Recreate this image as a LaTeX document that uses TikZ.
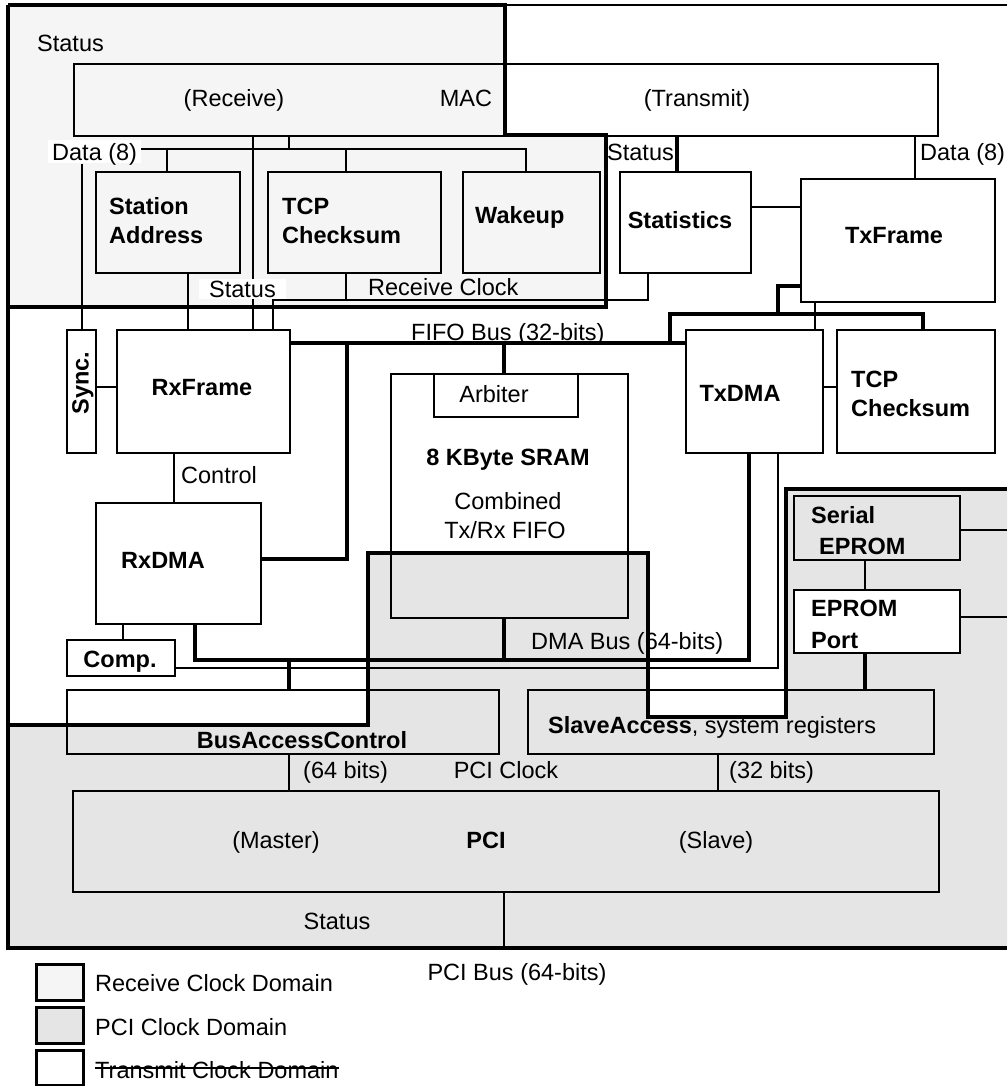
\documentclass[tikz,border=0pt]{standalone}
\usepackage{fontspec}
\setmainfont{Liberation Sans}
\definecolor{rxdom}{RGB}{245,245,245}
\definecolor{pcidom}{RGB}{229,229,229}
\tikzset{
  blk/.style={draw, line width=2pt, inner sep=0pt, anchor=north west},
  txt/.style={inner sep=0pt, text height=17pt, text depth=0pt, font=\fontsize{23.5}{28}\selectfont},
  btxt/.style={txt, font=\fontsize{23.5}{28}\selectfont\bfseries},
  wire/.style={line width=2pt},
  bus/.style={line width=3.2pt},
  domline/.style={line width=3.2pt, line join=miter}
}
\begin{document}
\begin{tikzpicture}[x=1pt,y=-1pt]
\useasboundingbox (0,0) rectangle (1007,1086);
\clip (0,0) rectangle (1007,1086);
% clock domains
\fill[rxdom] (8,5) -- (505,5) -- (505,135) -- (606,135) -- (606,307) -- (8,307) -- cycle;
\fill[pcidom] (8,725) -- (368,725) -- (368,553) -- (648,553) -- (648,717) -- (786,717) -- (786,489) -- (1012,489) -- (1012,948) -- (8,948) -- cycle;

% blocks
\node[blk, minimum width=864, minimum height=72] (mac) at (73,63) {};
\node[blk, minimum width=144, minimum height=101] (sta) at (95,171) {};
\node[blk, minimum width=173, minimum height=101] (tcpr) at (267,171) {};
\node[blk, minimum width=137, minimum height=101] (wak) at (462,171) {};
\node[blk, minimum width=131, minimum height=101] (stat) at (619,171) {};
\node[blk, minimum width=194, minimum height=123] (txf) at (800,178) {};
\node[blk, minimum width=29, minimum height=123] (sync) at (66,329) {};
\node[blk, minimum width=173, minimum height=123] (rxf) at (116,329) {};
\node[blk, minimum width=237, minimum height=244] (sram) at (390,373) {};
\node[blk, minimum width=144, minimum height=43] (arb) at (433,373) {};
\node[blk, minimum width=137, minimum height=123] (txdma) at (685,329) {};
\node[blk, minimum width=158, minimum height=123] (tcpt) at (836,329) {};
\node[blk, minimum width=165, minimum height=121] (rxdma) at (95,502) {};
\node[blk, minimum width=108, minimum height=36] (comp) at (66,639) {};
\node[blk, minimum width=166, minimum height=64] (ser) at (793,495) {};
\node[blk, fill=white, minimum width=166, minimum height=63] (port) at (793,589) {};
\node[blk, minimum width=432, minimum height=64] (bac) at (66,689) {};
\node[blk, minimum width=406, minimum height=64] (sla) at (527,689) {};
\node[blk, minimum width=866, minimum height=101] (pci) at (72,790) {};

% junction coordinates
\coordinate (rbus) at (289,149);
\coordinate (stj) at (273,300);
\coordinate (stk) at (648,300);
\coordinate (fifoR) at (670,343);
\coordinate (txbL) at (670,314);
\coordinate (txbR) at (923,314);
\coordinate (txbT) at (778,286);
\coordinate (txbM) at (778,314);
\coordinate (fifoA) at (504,343);
\coordinate (fifoD) at (347,343);
\coordinate (rxdmaJ) at (347,559);
\coordinate (dmaL) at (195,660);
\coordinate (dmaR) at (749,660);
\coordinate (dmaS) at (504,660);
\coordinate (dmaB) at (289,660);
\coordinate (compR) at (778,668);
\coordinate (pcib) at (504,948);
\coordinate (serR) at (1007,530);
\coordinate (portR) at (1007,617);

\node[txt, fill=white, inner xsep=4pt, inner ysep=3pt, anchor=west] (dataL) at (48,152) {Data (8)};

% thin connectors
\draw[wire] (289,0 |- mac.south) -- (rbus);
\draw[wire] (dataL.east |- rbus) -- (526,149) -- (526,0 |- wak.north);
\draw[wire] (167,149) -- (167,0 |- sta.north);
\draw[wire] (346,149) -- (346,0 |- tcpr.north);
\draw[wire] (sync.north |- dataL.south) -- (sync.north);
\draw[wire] (253,0 |- mac.south) -- (253,0 |- rxf.north);
\draw[wire] (188,0 |- sta.south) -- (188,0 |- rxf.north);
\draw[wire] (346,0 |- tcpr.south) -- (346,300);
\draw[wire] (273,0 |- rxf.north) -- (stj) -- (stk) -- (648,0 |- stat.south);
\draw[wire] (915,0 |- mac.south) -- (915,0 |- txf.north);
\draw[wire] (stat.east |- 0,207) -- (txf.west |- 0,207);
\draw[wire] (815,0 |- txf.south) -- (815,0 |- txdma.north);
\draw[wire] (sync.east |- 0,387) -- (rxf.west |- 0,387);
\draw[wire] (174,0 |- rxf.south) -- (174,0 |- rxdma.north);
\draw[wire] (123,0 |- rxdma.south) -- (123,0 |- comp.north);
\draw[wire] (comp.east |- compR) -- (compR) -- (778,0 |- txdma.south);
\draw[wire] (txdma.east |- 0,387) -- (tcpt.west |- 0,387);
\draw[wire] (865,0 |- ser.south) -- (865,0 |- port.north);
\draw[wire] (ser.east |- serR) -- (serR);
\draw[wire] (port.east |- portR) -- (portR);
\draw[wire] (289,0 |- bac.south) -- (289,0 |- pci.north);
\draw[wire] (718,0 |- sla.south) -- (718,0 |- pci.north);
\draw[wire] (504,0 |- pci.south) -- (pcib);

% thick buses
\draw[bus] (677,0 |- mac.south) -- (677,0 |- stat.north);
\draw[bus] (txf.west |- txbT) -- (txbT) -- (txbM);
\draw[bus] (fifoR) -- (txbL) -- (txbR) -- (923,0 |- tcpt.north);
\draw[bus] (rxf.east |- fifoR) -- (txdma.west |- fifoR);
\draw[bus] (fifoA) -- (504,0 |- arb.north);
\draw[bus] (fifoD) -- (rxdmaJ) -- (rxdma.east |- rxdmaJ);
\draw[bus] (195,0 |- rxdma.south) -- (dmaL) -- (dmaR) -- (749,0 |- txdma.south);
\draw[bus] (504,0 |- sram.south) -- (dmaS);
\draw[bus] (dmaB) -- (289,0 |- bac.north);
\draw[bus] (865,0 |- port.south) -- (865,0 |- sla.north);

% domain borders
\draw[domline] (8,5) -- (505,5) -- (505,135) -- (606,135) -- (606,307) -- (8,307);
\draw[wire] (505,5) -- (1007,5);
\draw[domline] (8,5) -- (8,948) -- (1007,948);
\draw[domline] (8,725) -- (368,725) -- (368,553) -- (648,553) -- (648,717) -- (786,717) -- (786,489) -- (1007,489);

% texts
\node[txt, anchor=west] (tStat1) at (37,43) {Status};
\node[txt] (tRecv) at (234,98) {(Receive)};
\node[txt] (tMac) at (466,98) {MAC};
\node[txt] (tTrans) at (697,98) {(Transmit)};
\node[btxt, anchor=west] (tSta1) at (109,206) {Station};
\node[btxt, anchor=west] (tSta2) at (109,235) {Address};
\node[btxt, anchor=west] (tTcp1) at (282,206) {TCP};
\node[btxt, anchor=west] (tTcp2) at (282,235) {Checksum};
\node[btxt, anchor=west] (tWak) at (475,215) {Wakeup};
\node[txt, fill=white, minimum width=87, minimum height=20] (tStat2) at (242.5,289) {Status};
\node[txt, anchor=west] (tRclk) at (368,287) {Receive Clock};
\node[txt, anchor=west] (tStat3) at (607,152) {Status};
\node[txt, anchor=west] (tData2) at (920,152) {Data (8)};
\node[btxt] (tStatis) at (680,220) {Statistics};
\node[btxt] (tTxf) at (894,235) {TxFrame};
\node[txt, anchor=west] (tFifo) at (411,332) {FIFO Bus (32-bits)};
\node[btxt, rotate=90] (tSync) at (80,383) {Sync.};
\node[btxt] (tRxf) at (202,387) {RxFrame};
\node[txt, anchor=west] (tCtrl) at (181,475) {Control};
\node[btxt] (tRxdma) at (163,560) {RxDMA};
\node[btxt] (tComp) at (120,659) {Comp.};
\node[txt] (tArb) at (494,394) {Arbiter};
\node[btxt] (tSram) at (508,457) {8 KByte SRAM};
\node[txt] (tComb) at (508,501) {Combined};
\node[txt] (tTxrx) at (505,530) {Tx/Rx FIFO};
\node[btxt] (tTxdma) at (740,393) {TxDMA};
\node[btxt, anchor=west] (tTcpt1) at (851,379) {TCP};
\node[btxt, anchor=west] (tTcpt2) at (851,408) {Checksum};
\node[btxt, anchor=west] (tSer1) at (811,515) {Serial};
\node[btxt, anchor=west] (tSer2) at (819,546) {EPROM};
\node[btxt, anchor=west] (tPort1) at (811,608) {EPROM};
\node[btxt, anchor=west] (tPort2) at (811,640) {Port};
\node[txt, anchor=west] (tDma) at (531,641) {DMA Bus (64-bits)};
\node[txt, anchor=west] (tSla) at (548,725) {\textbf{SlaveAccess}, system registers};
\node[btxt] (tBac) at (302,740) {BusAccessControl};
\node[txt, anchor=west] (t64) at (303,770) {(64 bits)};
\node[txt] (tPciclk) at (506,770) {PCI Clock};
\node[txt, anchor=west] (t32) at (729,770) {(32 bits)};
\node[txt] (tMaster) at (276,840) {(Master)};
\node[btxt] (tPci) at (486,840) {PCI};
\node[txt] (tSlave) at (716,840) {(Slave)};
\node[txt] (tStat4) at (337,921) {Status};
\node[txt] (tPcibus) at (517,972) {PCI Bus (64-bits)};

% legend
\node[blk, line width=2.5pt, fill=rxdom, minimum width=47, minimum height=36] (lg1) at (35,963) {};
\node[blk, line width=2.5pt, fill=pcidom, minimum width=47, minimum height=36] (lg2) at (35,1006) {};
\node[blk, line width=2.5pt, fill=white, minimum width=47, minimum height=35] (lg3) at (35,1049) {};
\node[txt, anchor=west] (lgt1) at (95,983) {Receive Clock Domain};
\node[txt, anchor=west] (lgt2) at (95,1027) {PCI Clock Domain};
\node[txt, anchor=west] (lgt3) at (95,1070) {Transmit Clock Domain};
\draw[line width=1.5pt] ([yshift=2pt]lgt3.west) -- ([yshift=2pt]lgt3.east);
\end{tikzpicture}
\end{document}
